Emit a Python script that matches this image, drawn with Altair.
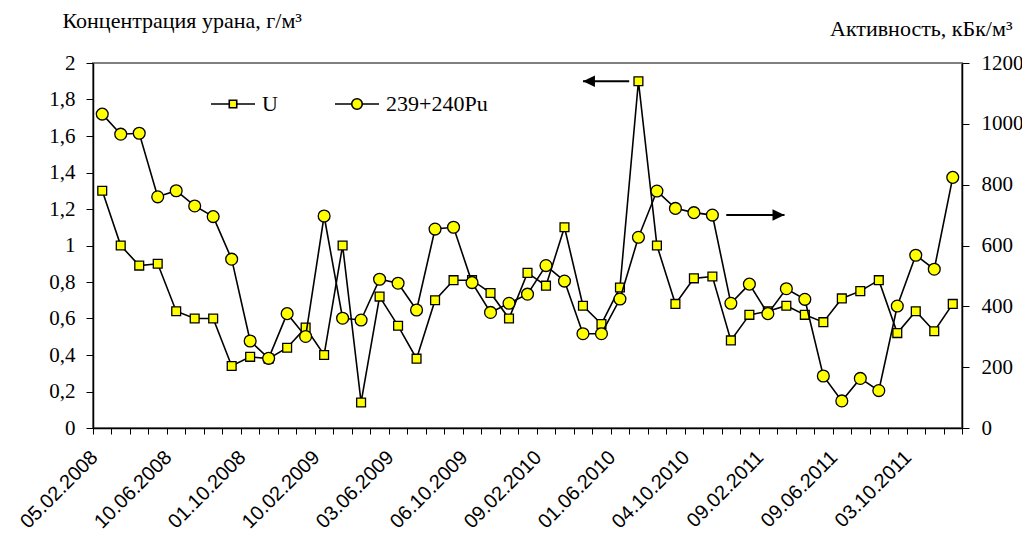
import json
import altair as alt
import pandas as pd

# ---------------- data ----------------
date_labels = ["05.02.2008", "10.06.2008", "01.10.2008", "10.02.2009", "03.06.2009",
               "06.10.2009", "09.02.2010", "01.06.2010", "04.10.2010", "09.02.2011",
               "09.06.2011", "03.10.2011"]
label_step = 4

u_values = [1.30, 1.00, 0.89, 0.90, 0.64, 0.60, 0.60, 0.34, 0.39, 0.38, 0.44, 0.55,
            0.40, 1.00, 0.14, 0.72, 0.56, 0.38, 0.70, 0.81, 0.81, 0.74, 0.60, 0.85,
            0.78, 1.10, 0.67, 0.57, 0.77, 1.90, 1.00, 0.68, 0.82, 0.83, 0.48, 0.62,
            0.64, 0.67, 0.62, 0.58, 0.71, 0.75, 0.81, 0.52, 0.64, 0.53, 0.68]
pu_values = [1032, 966, 969, 760, 780, 730, 695, 555, 286, 229, 376, 301,
             697, 361, 355, 489, 476, 388, 654, 660, 478, 380, 410, 440,
             534, 483, 310, 310, 424, 627, 779, 722, 708, 700, 410, 473,
             376, 458, 423, 171, 89, 163, 123, 401, 568, 522, 824]

u_ticks = [0, 0.2, 0.4, 0.6, 0.8, 1.0, 1.2, 1.4, 1.6, 1.8, 2.0]
pu_ticks = [0, 200, 400, 600, 800, 1000, 1200]

u_name = "U"
pu_name = "239+240Pu"

# annotation arrows (in category index / uranium units)
arrow_start = [26.0, 33.75]
arrow_end = [28.5, 36.9]
arrow_y = [1.9, 1.167]
arrow_dir = ["left", "right"]

# ---------------- layout ----------------
W, H = 869, 365
n = len(u_values)
cat_px = W / n
SERIF = "Liberation Serif"
SANS = "Liberation Sans"
YELLOW = "#FFFF00"

df = pd.DataFrame({
    "idx": list(range(n)),
    "U": u_values,
    "Pu": pu_values,
    "u_series": [u_name] * n,
    "pu_series": [pu_name] * n,
})

arrows = pd.DataFrame({
    "x_start": arrow_start,
    "x_end": arrow_end,
    "U": arrow_y,
    "dir": arrow_dir,
})
arrows["tip"] = [s if d == "left" else e for s, e, d in zip(arrow_start, arrow_end, arrow_dir)]

label_expr = (
    f"(datum.value + 0.5) % {label_step} == 0 ? "
    f"{json.dumps(date_labels)}[round((datum.value + 0.5) / {label_step})] : ''"
)

x_scale = alt.Scale(domain=[-0.5, n - 0.5], nice=False, zero=False)
x_axis = alt.Axis(
    values=[i - 0.5 for i in range(n + 1)],
    labelExpr=label_expr,
    labelAngle=315,
    labelAlign="right",
    labelBaseline="middle",
    labelOffset=cat_px / 2 - 8,
    labelPadding=20,
    labelFont=SANS,
    labelFontSize=20,
    labelOverlap=False,
    labelFlush=False,
    tickSize=6,
    title=None,
)


def X(field):
    return alt.X(f"{field}:Q", scale=x_scale, axis=x_axis)


u_scale = alt.Scale(domain=[0, 2], nice=False, zero=True)
u_axis = alt.Axis(
    orient="left",
    values=u_ticks,
    labelExpr="replace(format(datum.value, '.1~f'), '.', ',')",
    labelFont=SERIF,
    labelFontSize=21,
    labelPadding=11,
    labelOverlap=False,
    labelFlush=False,
    tickSize=7,
    title="Концентрация урана, г/м³",
    titleAngle=0,
    titleAlign="left",
    titleBaseline="alphabetic",
    titleX=-31,
    titleY=-36,
    titleFont=SERIF,
    titleFontSize=22,
    titleFontWeight="normal",
)
u_y = alt.Y("U:Q", scale=u_scale, axis=u_axis)

pu_y = alt.Y(
    "Pu:Q",
    scale=alt.Scale(domain=[0, 1200], nice=False, zero=True),
    axis=alt.Axis(
        orient="right",
        values=pu_ticks,
        format="d",
        labelFont=SERIF,
        labelFontSize=21,
        labelPadding=12,
        labelOverlap=False,
        labelFlush=False,
        tickSize=7,
        title="Активность, кБк/м³",
        titleAngle=0,
        titleAlign="right",
        titleBaseline="alphabetic",
        titleX=50,
        titleY=-28,
        titleFont=SERIF,
        titleFontSize=22,
        titleFontWeight="normal",
    ),
)

sq_path = "M-1,0H-0.17M0.17,0H1M-0.17,-0.17H0.17V0.17H-0.17Z"
ci_path = ("M-1,0H-0.24M0.24,0H1M-0.24,0A0.24,0.24,0,1,0,0.24,0"
           "A0.24,0.24,0,1,0,-0.24,0Z")


def legend(path, lx):
    return alt.Legend(
        orient="none",
        legendX=lx,
        legendY=18,
        title=None,
        symbolType=path,
        symbolSize=44 * 44,
        symbolStrokeWidth=1.6,
        symbolStrokeColor="black",
        labelFont=SERIF,
        labelFontSize=22,
        labelColor="black",
        labelOffset=6,
        padding=0,
    )


u_line = alt.Chart(df).mark_line(color="black", strokeWidth=1.6).encode(x=X("idx"), y=u_y)
u_pts = alt.Chart(df).mark_point(
    shape="square", filled=True, size=78, stroke="black", strokeWidth=1.3, opacity=1
).encode(
    x=X("idx"), y=u_y,
    color=alt.Color("u_series:N", scale=alt.Scale(domain=[u_name], range=[YELLOW]),
                    legend=legend(sq_path, 117)),
)

arrow_line = alt.Chart(arrows).mark_rule(color="black", strokeWidth=2).encode(
    x=X("x_start"), x2="x_end", y=u_y
)
arrow_head = alt.Chart(arrows).mark_point(
    filled=True, color="black", size=144, opacity=1, strokeWidth=0
).encode(
    x=X("tip"), y=u_y,
    shape=alt.Shape("dir:N", scale=alt.Scale(domain=["left", "right"],
                    range=["M0,0L2,-0.95L2,0.95Z", "M0,0L-2,-0.95L-2,0.95Z"]),
                    legend=None),
)

pu_line = alt.Chart(df).mark_line(color="black", strokeWidth=1.6).encode(x=X("idx"), y=pu_y)
pu_pts = alt.Chart(df).mark_point(
    shape="circle", filled=True, size=140, stroke="black", strokeWidth=1.3, opacity=1
).encode(
    x=X("idx"), y=pu_y,
    color=alt.Color("pu_series:N", scale=alt.Scale(domain=[pu_name], range=[YELLOW]),
                    legend=legend(ci_path, 241)),
)

u_layer = alt.layer(u_line, u_pts, arrow_line, arrow_head)
pu_layer = alt.layer(pu_line, pu_pts)

chart = alt.layer(u_layer, pu_layer).resolve_scale(
    y="independent", color="independent"
).properties(
    width=W,
    height=H,
    padding={"left": 85, "top": 55, "right": 60, "bottom": 104},
    autosize=alt.AutoSizeParams(type="none"),
).configure_view(
    stroke="#808080", strokeWidth=2
).configure_axis(
    grid=False,
    domainColor="black",
    domainWidth=1.5,
    tickColor="black",
    tickWidth=1,
    labelColor="black",
    titleColor="black",
)

chart.save("out.html", embed_options={"renderer": "svg", "actions": False})
